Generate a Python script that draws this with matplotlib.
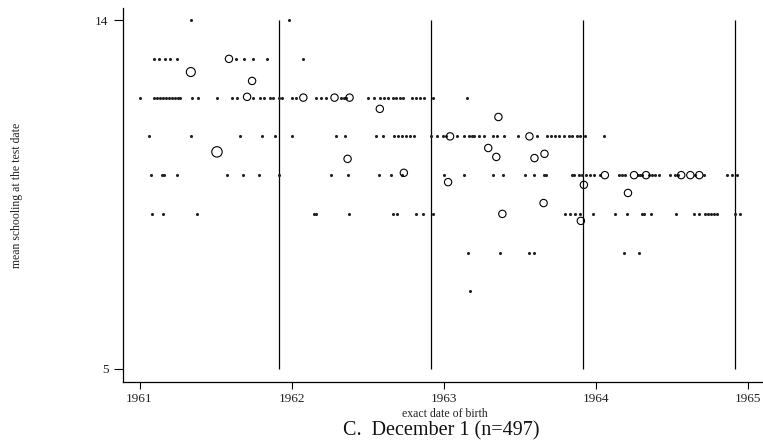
import numpy as np
import matplotlib
matplotlib.use("Agg")
import matplotlib.pyplot as plt

plt.rcParams['font.family'] = ['Liberation Serif', 'DejaVu Serif']

# single observations per birth date (decimal year, years of schooling)
dot_dates = [
    # 14
    1961.337, 1961.985,
    # 13
    1961.093, 1961.126, 1961.165, 1961.198, 1961.245, 1961.634, 1961.687,
    1961.747, 1961.839, 1962.077,
    # 12
    1961.000, 1961.093, 1961.112, 1961.132, 1961.152, 1961.172, 1961.192,
    1961.212, 1961.231, 1961.251, 1961.264, 1961.344, 1961.383, 1961.509,
    1961.608, 1961.641, 1961.747, 1961.793, 1961.820, 1961.859, 1961.879,
    1961.919, 1961.939, 1962.005, 1962.031, 1962.163, 1962.196, 1962.229,
    1962.322, 1962.342, 1962.355, 1962.500, 1962.540, 1962.580, 1962.606,
    1962.632, 1962.665, 1962.685, 1962.712, 1962.732, 1962.791, 1962.817,
    1962.844, 1962.870, 1962.930, 1963.155,
    # 11
    1961.059, 1961.337, 1961.661, 1961.806, 1961.892, 1962.005, 1962.295,
    1962.348, 1962.553, 1962.599, 1962.672, 1962.699, 1962.725, 1962.751,
    1962.778, 1962.804, 1962.917, 1962.956, 1962.996, 1963.016, 1963.089,
    1963.135, 1963.168, 1963.188, 1963.201, 1963.234, 1963.267, 1963.326,
    1963.353, 1963.399, 1963.492, 1963.611, 1963.677, 1963.703, 1963.730,
    1963.756, 1963.789, 1963.822, 1963.842, 1963.875, 1963.895, 1963.928,
    1964.054,
    # 10
    1961.073, 1961.145, 1961.159, 1961.245, 1961.575, 1961.681, 1961.786,
    1961.919, 1962.256, 1962.368, 1962.573, 1962.652, 1962.725, 1963.003,
    1963.135, 1963.326, 1963.393, 1963.538, 1963.591, 1963.657, 1963.670,
    1963.842, 1963.855, 1963.888, 1963.908, 1963.934, 1963.961, 1963.987,
    1964.027, 1964.152, 1964.172, 1964.192, 1964.278, 1964.291, 1964.305,
    1964.351, 1964.371, 1964.391, 1964.417, 1964.490, 1964.523, 1964.542,
    1964.655, 1964.714, 1964.866, 1964.893, 1964.926,
    # 9
    1961.079, 1961.152, 1961.377, 1962.150, 1962.163, 1962.375, 1962.665,
    1962.692, 1962.817, 1962.864, 1962.930, 1963.796, 1963.829, 1963.862,
    1963.895, 1963.981, 1964.126, 1964.205, 1964.305, 1964.318, 1964.364,
    1964.529, 1964.648, 1964.681, 1964.721, 1964.741, 1964.761, 1964.780,
    1964.800, 1964.919, 1964.952,
    # 8
    1963.161, 1963.373, 1963.558, 1963.597, 1964.185, 1964.285,
    # 7
    1963.174,
]
dot_values = ([14] * 2 + [13] * 10 + [12] * 46 + [11] * 43 + [10] * 47
              + [9] * 31 + [8] * 6 + [7] * 1)

# birth dates with several observations: mean schooling and group size
circ_dates = [1961.337, 1961.588, 1961.740, 1961.707, 1961.509, 1962.077,
              1962.282, 1962.381, 1962.580, 1962.368, 1962.738, 1963.042,
              1963.360, 1963.293, 1963.346, 1963.597, 1963.663, 1963.029,
              1963.564, 1963.386, 1963.657, 1963.902, 1963.922, 1964.212,
              1964.060, 1964.252, 1964.331, 1964.562, 1964.622, 1964.681]
circ_values = [12.66, 13.0, 12.43, 12.02, 10.60, 12.0,
               12.0, 12.0, 11.71, 10.42, 10.06, 11.0,
               11.50, 10.70, 10.47, 10.44, 10.55, 9.82,
               11.0, 9.0, 9.28, 8.82, 9.75, 9.54,
               10.0, 10.0, 10.0, 10.0, 10.0, 10.0]
circ_counts = [3, 2, 2, 2, 4, 2,
               2, 2, 2, 2, 2, 2,
               2, 2, 2, 2, 2, 2,
               2, 2, 2, 2, 2, 2,
               2, 2, 2, 2, 2, 2]

cutoffs = [1961.915, 1962.915, 1963.915, 1964.915]
year_ticks = [1961, 1962, 1963, 1964, 1965]

fig = plt.figure(figsize=(7.63, 4.48), dpi=100)
ax = fig.add_axes([0.161, 0.147, 0.839, 0.835])

# December 1 cutoff lines
ax.vlines(cutoffs, 5, 14, color='black', linewidth=0.9)

ax.scatter(dot_dates, dot_values, s=5, color='#222222', linewidths=0, zorder=3)
ax.scatter(circ_dates, circ_values, s=np.array(circ_counts) * 14,
           facecolors='none', edgecolors='black', linewidths=0.8, zorder=4)

ax.set_xlim(1960.89, 1965.1)
ax.set_ylim(4.66, 14.31)
ax.set_xticks(year_ticks)
ax.set_yticks([5, 14])
ax.tick_params(axis='both', labelsize=9.5, direction='out', width=0.8,
               labelcolor='#222222')
ax.tick_params(axis='y', length=6.5, pad=4)
ax.tick_params(axis='x', length=5, pad=3)

for side in ['top', 'right']:
    ax.spines[side].set_visible(False)
for side in ['left', 'bottom']:
    ax.spines[side].set_linewidth(0.9)

ax.set_ylabel('mean schooling at the test date', fontsize=8.5, labelpad=52,
              color='#222222')
fig.text(0.583, 0.077, 'exact date of birth', fontsize=8.5, ha='center',
         va='center', color='#222222')
fig.text(0.578, 0.038, 'C.  December 1 (n=497)', fontsize=14.5, ha='center',
         va='center', color='#111111')

fig.savefig('out.png', dpi=100)
